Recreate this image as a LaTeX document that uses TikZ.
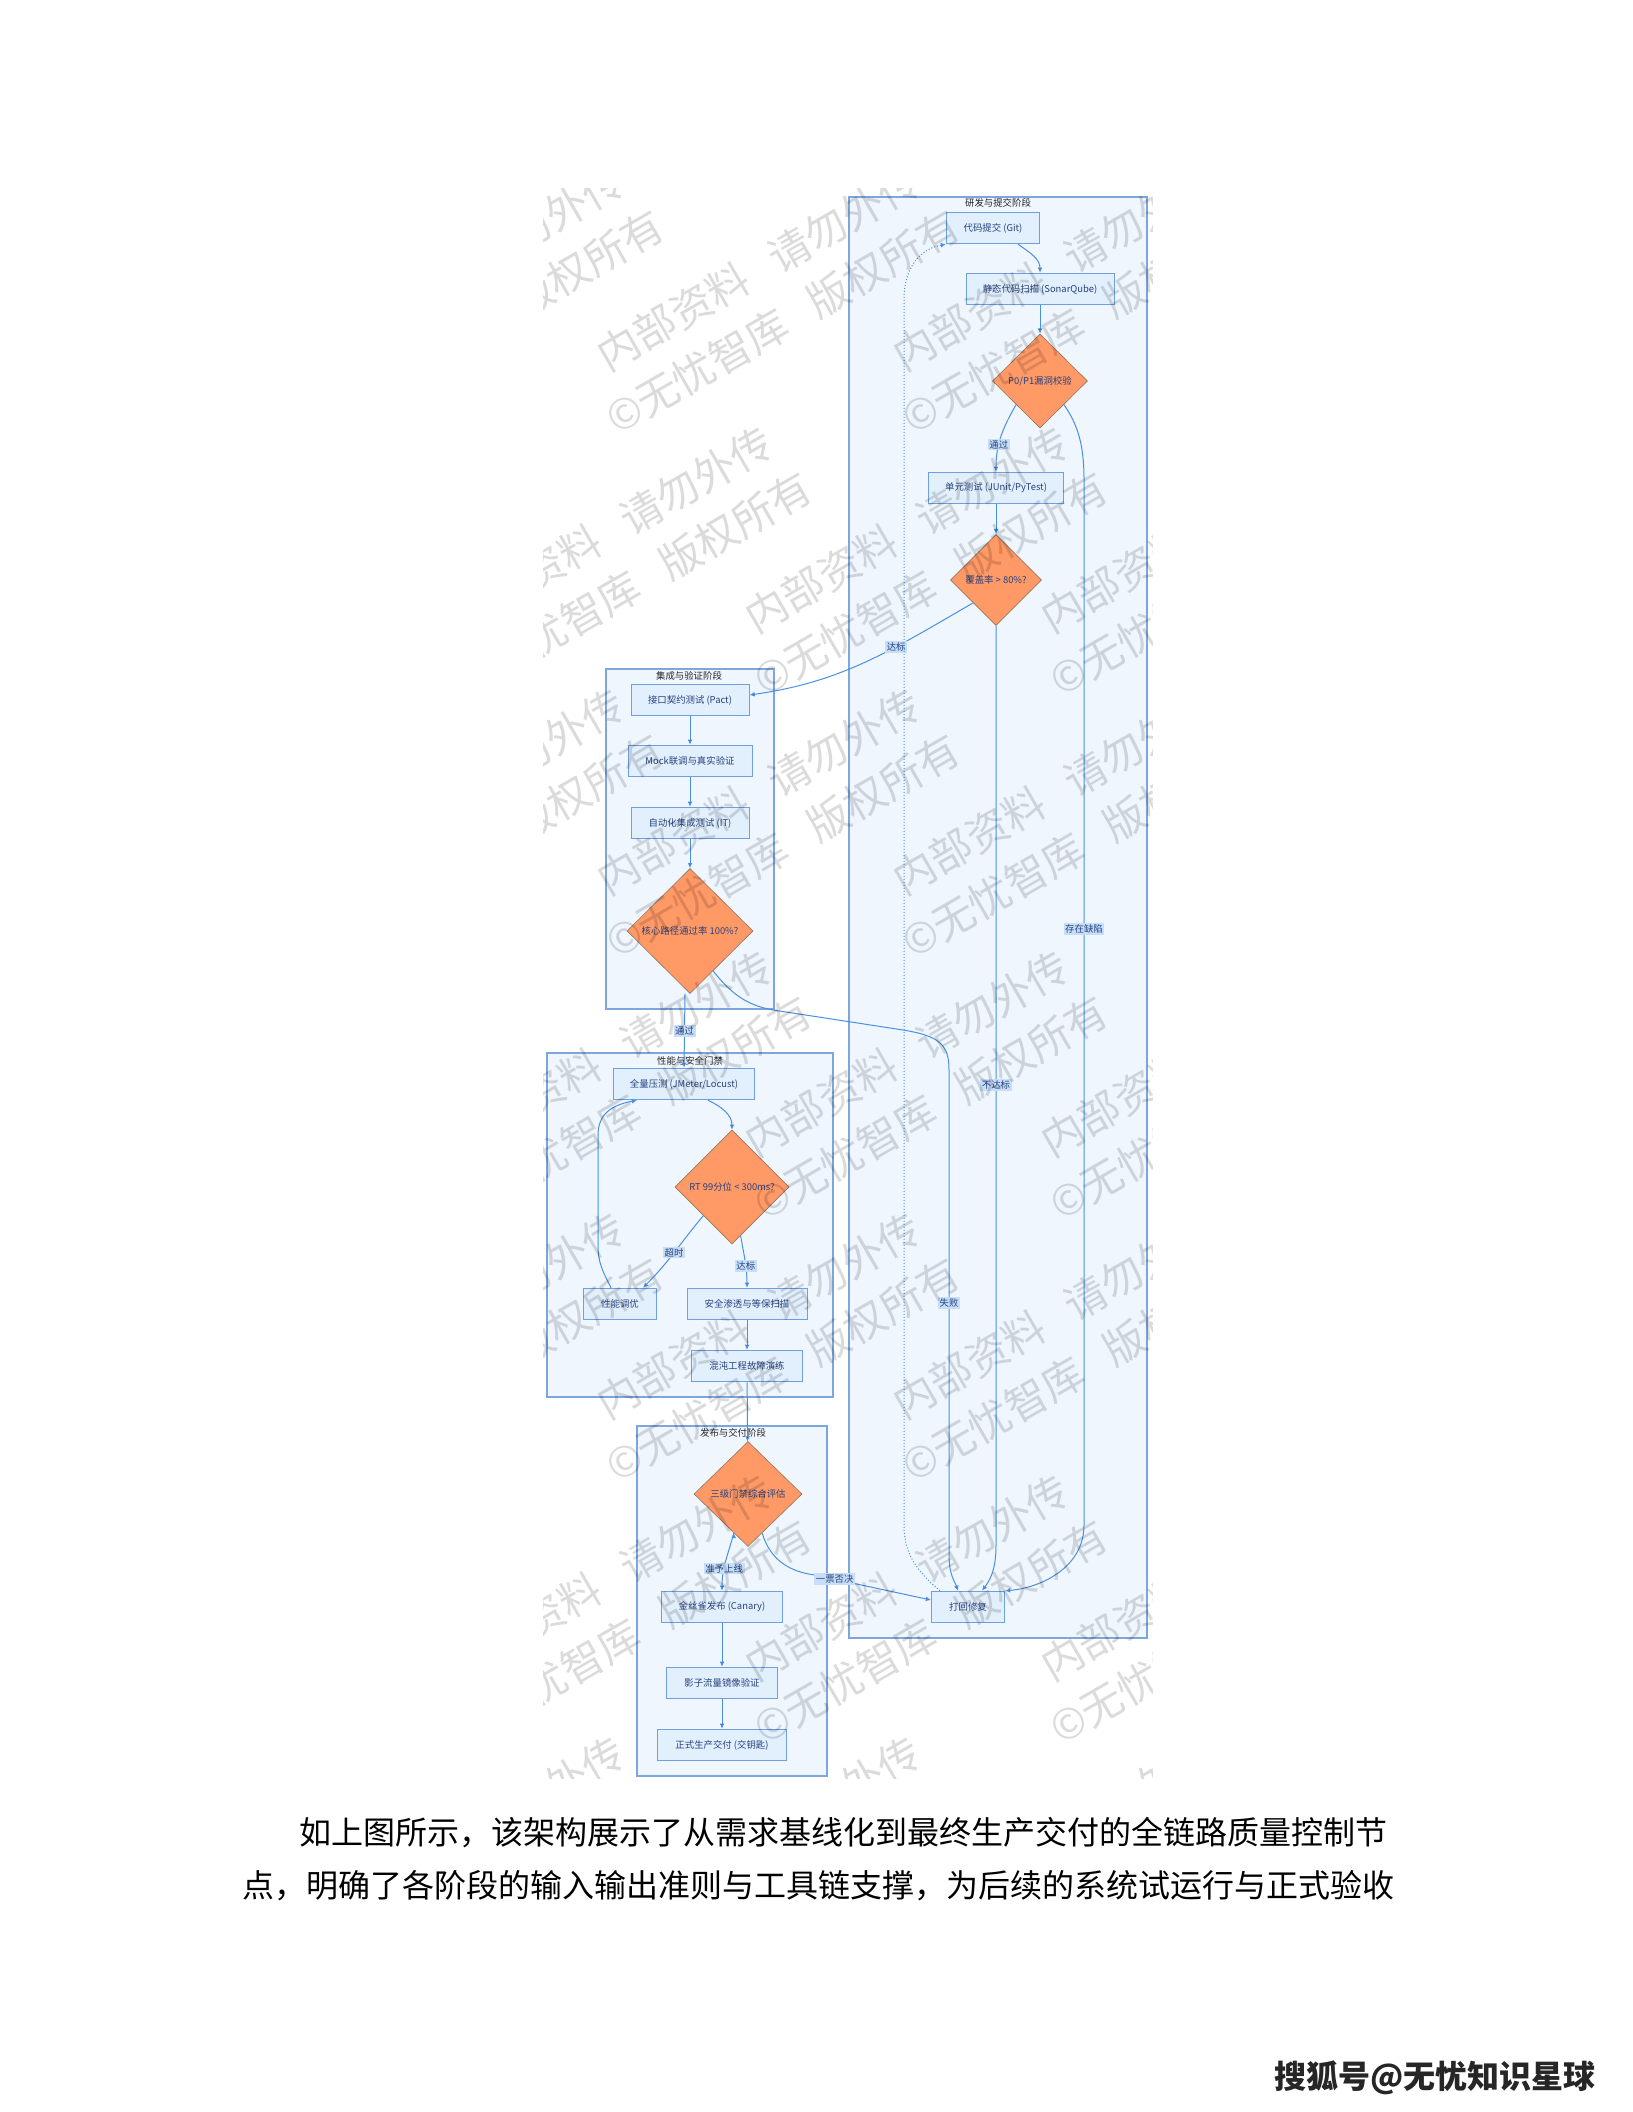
\documentclass[tikz,border=0pt]{standalone}
\usepackage{fontspec}
\setmainfont{Noto Sans CJK SC}
\usepackage{tikz}
\usetikzlibrary{positioning, arrows.meta, calc, shapes.geometric}
\definecolor{cPh}{RGB}{239,246,254}
\definecolor{cPl}{RGB}{125,165,222}
\definecolor{cBx}{RGB}{226,239,252}
\definecolor{cBl}{RGB}{110,160,225}
\definecolor{cGt}{RGB}{255,153,102}
\definecolor{cGl}{RGB}{150,115,95}
\definecolor{cLn}{RGB}{74,144,226}
\definecolor{cTg}{RGB}{198,222,248}
\definecolor{cTx}{RGB}{38,66,128}

\begin{document}
\begin{tikzpicture}[x=0.5pt, y=-0.5pt, node distance=30.5pt, on grid,
    flowfont/.style={font=\fontsize{4.7pt}{5.6pt}\selectfont},
    phase/.style={draw=cPl, fill=cPh, line width=0.7pt},
    phasetitle/.style={flowfont, text=black!85, inner sep=0pt},
    stepbox/.style={rectangle, draw=cBl, fill=cBx, line width=0.5pt, text=cTx, flowfont, minimum height=15.75pt, inner sep=1pt},
    gate/.style={diamond, draw=cGl, fill=cGt, line width=0.3pt, text=cTx, flowfont, inner sep=0pt},
    flow/.style={draw=cLn, line width=0.5pt, -{Latex[length=2.6pt,width=2.4pt]}},
    tag/.style={fill=cTg, text=cTx, flowfont, inner sep=0.8pt},
    wmark/.style={font=\fontsize{21pt}{22pt}\selectfont, text=black, text opacity=0.14, rotate=30, anchor=base west, inner sep=0pt},
    bodytext/.style={font=\fontsize{16pt}{20pt}\selectfont, anchor=west, inner sep=0pt}]
    \useasboundingbox (0,0) rectangle (1632,2112);
    \fill[white] (0,0) rectangle (1632,2112);

    % phases
    \draw[phase] (849,197) rectangle (1147,1638);
    \node[phasetitle] (devtitle) at (998,203) {研发与提交阶段};
    \draw[phase] (606,669) rectangle (774,1009);
    \node[phasetitle] (inttitle) at (689,676) {集成与验证阶段};
    \draw[phase] (547,1053) rectangle (833,1397);
    \node[phasetitle] (perftitle) at (690,1061) {性能与安全门禁};
    \draw[phase] (637,1426) rectangle (827,1776);
    \node[phasetitle] (reltitle) at (733,1433) {发布与交付阶段};

    % develop and commit
    \node[stepbox, minimum width=46.5pt] (git) at (993,228) {代码提交 (Git)};
    \node[stepbox, minimum width=74pt] (sonar) at (1040,289) {静态代码扫描 (SonarQube)};
    \node[gate, minimum width=47.5pt, minimum height=47pt] (vuln) at (1040,381) {P0/P1漏洞校验};
    \node[stepbox, minimum width=67.5pt] (unit) at (996,488) {单元测试 (JUnit/PyTest)};
    \node[gate, minimum width=45.5pt, minimum height=45.5pt] (cover) at (996,580) {覆盖率 > 80\%?};
    \node[stepbox, minimum width=36.5pt] (rework) at (968,1607) {打回修复};

    % integration
    \node[stepbox, minimum width=59pt] (pact) at (690,700) {接口契约测试 (Pact)};
    \node[stepbox, minimum width=62pt, below=of pact] (mock) {Mock联调与真实验证};
    \node[stepbox, minimum width=59pt, below=31pt of mock] (itest) {自动化集成测试 (IT)};
    \node[gate, minimum width=63pt, minimum height=62.5pt, below=54pt of itest] (core) {核心路径通过率 100\%?};

    % performance and security
    \node[stepbox, minimum width=70.5pt] (load) at (684,1084) {全量压测 (JMeter/Locust)};
    \node[gate, minimum width=57pt, minimum height=57pt] (rt) at (732,1187) {RT 99分位 < 300ms?};
    \node[stepbox, minimum width=36.5pt] (tune) at (620,1304) {性能调优};
    \node[stepbox, minimum width=60pt] (secure) at (747,1304) {安全渗透与等保扫描};
    \node[stepbox, minimum width=55.5pt, below=31pt of secure] (chaos) {混沌工程故障演练};

    % release
    \node[gate, minimum width=54pt, minimum height=52.5pt] (triple) at (748,1494) {三级门禁综合评估};
    \node[stepbox, minimum width=60.5pt] (canary) at (722,1607) {金丝雀发布 (Canary)};
    \node[stepbox, minimum width=55.5pt, below=38pt of canary] (shadow) {影子流量镜像验证};
    \node[stepbox, minimum width=64.5pt, below=31pt of shadow] (golive) {正式生产交付 (交钥匙)};

    \path[flow]
    ([xshift=12.5pt]git.south) edge[out=-35, in=90] (sonar.north)
    (sonar) edge (vuln)
    (vuln.south west) edge[out=-120, in=90] node[tag, pos=0.62] {通过} (unit.north)
    (unit) edge (cover)
    (cover.south west) edge[out=-150, in=8] node[tag, pos=0.35] {达标} ([yshift=2.5pt]pact.east)
    (pact) edge (mock)
    (mock) edge (itest)
    (itest) edge (core)
    ([xshift=-2.5pt]core.south) edge node[tag] {通过} (load.north)
    ([xshift=12pt]load.south) edge[out=-25, in=90] (rt.north)
    (rt.south west) edge[out=-130, in=45] node[tag, pos=0.5] {超时} ([xshift=11.5pt]tune.north)
    (rt.-80) edge[out=-80, in=90] node[tag, pos=0.6] {达标} (secure.north)
    (secure) edge (chaos)
    (chaos) edge (triple)
    (triple.250) edge[out=-105, in=90] node[tag, pos=0.63] {准予上线} (canary.north)
    (canary) edge (shadow)
    (shadow) edge (golive);

    % loops back to rework
    \draw[flow] ([xshift=-4.5pt]tune.north) .. controls (602,1270) and (598,1262) .. (598,1245)
        -- (598,1135) .. controls (598,1110) and (618,1104) .. ([xshift=-23.5pt]load.south);
    \draw[flow] (vuln.south east) .. controls (1078,425) and (1084,445) .. (1084,480)
        -- node[tag, pos=0.43] {存在缺陷} (1084,1525)
        .. controls (1084,1568) and (1040,1588) .. (rework.north east);
    \draw[flow] (cover.south) -- node[tag, pos=0.5] {不达标} (996,1545)
        .. controls (996,1570) and (990,1580) .. ([xshift=7pt]rework.north);
    \draw[flow] (core.-60) .. controls (730,992) and (745,1005) .. (773,1010)
        -- (903,1030) .. controls (940,1036) and (949,1045) .. (949,1070)
        -- node[tag, pos=0.48] {失败} (949,1555)
        .. controls (949,1575) and (955,1582) .. ([xshift=-5pt]rework.north);
    \draw[flow] (triple.290) .. controls (770,1560) and (790,1572) .. (815,1575)
        -- node[tag, pos=0.17] {一票否决} ([yshift=3.5pt]rework.west);
    \draw[flow, densely dotted] ([xshift=4.5pt]rework.north west) .. controls (918,1572) and (904,1555) .. (904,1525)
        -- (904,300) .. controls (904,262) and (925,248) .. (git.south west);

    % text below
    \node[bodytext] (para1) at (299,1833) {如上图所示，该架构展示了从需求基线化到最终生产交付的全链路质量控制节};
    \node[bodytext] (para2) at (242,1886) {点，明确了各阶段的输入输出准则与工具链支撑，为后续的系统试运行与正式验收};
    \node[bodytext, font=\fontsize{16pt}{20pt}\selectfont\bfseries, text=black!85] (sohu) at (1274,2078) {搜狐号@无忧知识星球};

    % watermark
    \begin{scope}
        \clip (543,189) rectangle (1152,1778);
        \foreach \r in {0,...,6}
            \foreach \c in {-1,...,2} {
                \pgfmathsetmacro{\sx}{608+296*\c-148*mod(\r,2)}
                \pgfmathsetmacro{\sy}{373+262*\r}
                \node[wmark] (wa\r\c) at (\sx,\sy) {内部资料\hspace{0.7em}请勿外传};
                \node[wmark] (wb\r\c) at (\sx+9,\sy+63) {©无忧智库\hspace{0.7em}版权所有};
            }
    \end{scope}
\end{tikzpicture}
\end{document}
